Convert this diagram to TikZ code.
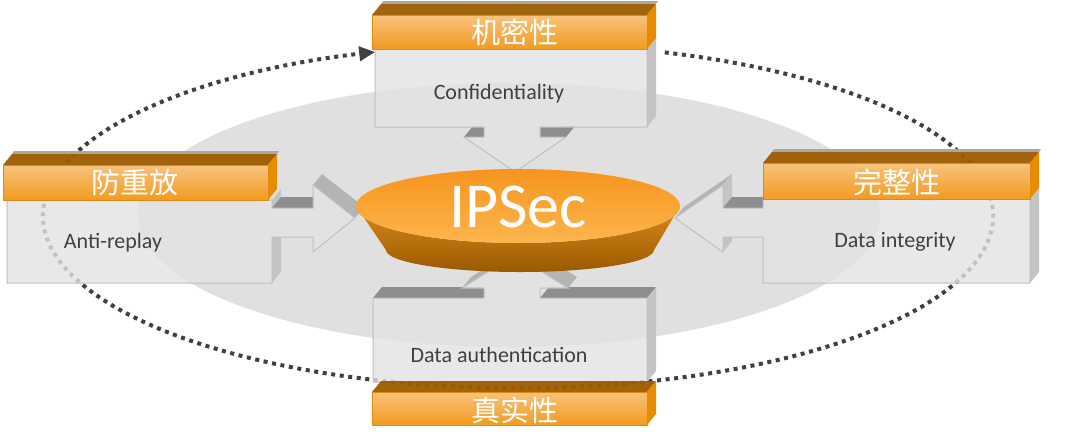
\documentclass[tikz,border=0pt]{standalone}
\usepackage{fontspec}
\setmainfont{Carlito}
\newfontfamily\zhfont{Noto Sans CJK SC}
\usetikzlibrary{arrows.meta}

\definecolor{ringgray}{HTML}{E0E0E0}
\definecolor{dotgray}{HTML}{404040}
\definecolor{facegray}{HTML}{E3E3E3}
\definecolor{edgegray}{HTML}{C0C0C0}
\definecolor{sidegray}{HTML}{C4C4C4}
\definecolor{darkface}{HTML}{8E8E8E}
\definecolor{slantgray}{HTML}{B4B4B4}
\definecolor{backstrip}{HTML}{A8A8A8}
\definecolor{barbrown}{HTML}{9E5B00}
\definecolor{barorange}{HTML}{E58C00}
\definecolor{barlight}{HTML}{F8C27C}
\definecolor{bardeep}{HTML}{F29B20}
\definecolor{baredge}{HTML}{E08A10}
\definecolor{disktopA}{HTML}{F7941D}
\definecolor{disktopB}{HTML}{FDB64E}
\definecolor{disksideA}{HTML}{DB8A1A}
\definecolor{disksideB}{HTML}{9A5A02}
\definecolor{textgray}{HTML}{404040}

\begin{document}
\begin{tikzpicture}[x=0.5pt,y=-0.5pt,
    front/.style={fill=facegray,fill opacity=0.8,draw=edgegray,line width=0.5pt},
    bartop/.style={fill=barbrown,fill opacity=0.95},
    barside/.style={fill=barorange},
    barfront/.style={top color=barlight,bottom color=bardeep,draw=baredge,line width=0.4pt},
    ring/.style={dotgray,line width=2pt,dash pattern=on 2pt off 2.3pt},
    en/.style={text=textgray,font=\fontsize{11}{13}\selectfont},
    zh/.style={text=white,font=\zhfont\fontsize{14.5}{17}\selectfont},
    core/.style={text=white,font=\fontsize{32}{36}\selectfont}]
    \fill[white] (0,0) rectangle (1080,445);
    \useasboundingbox (0,0) rectangle (1080,445);

    % background ring and the cycle
    \fill[ringgray] (509,215) ellipse [x radius=371, y radius=132];
    \draw[ring,-{Triangle[length=8pt,width=7pt]}] (664.8,52.4)
        arc[start angle=288, end angle=612.5, x radius=475, y radius=172];

    % top box
    \fill[backstrip] (381,4) -- (656,4) -- (658,1) -- (383,1) -- cycle;
    \fill[sidegray] (647,49) -- (656,38) -- (656,116) -- (647,127) -- cycle;
    \fill[darkface] (464,137) -- (484,137) -- (484,127) -- (473,126) -- cycle;
    \fill[darkface] (540,127) -- (540,137) -- (566,137) -- (575,126) -- cycle;
    \fill[bartop] (372,15) -- (647,15) -- (656,4) -- (381,4) -- cycle;
    \fill[barside] (647,15) -- (656,4) -- (656,38) -- (647,49) -- cycle;
    \filldraw[front] (375,49) -- (647,49) -- (647,127) -- (540,127) -- (540,137) -- (566,137)
        -- (515,172) -- (464,137) -- (484,137) -- (484,127) -- (375,127) -- cycle;
    \shade[barfront] (372,15) rectangle (647,49);

    % left box
    \fill[backstrip] (12,154) -- (277,154) -- (279,151) -- (14,151) -- cycle;
    \fill[sidegray] (272,200) -- (272,208) -- (281,197) -- (281,189) -- cycle;
    \fill[darkface] (272,208) -- (313,208) -- (313,197) -- (281,197) -- cycle;
    \fill[slantgray] (313,185) -- (355,218) -- (364,207) -- (322,174) -- cycle;
    \fill[sidegray] (272,237) -- (272,283) -- (281,272) -- (281,237) -- cycle;
    \fill[bartop] (3,165) -- (268,165) -- (277,154) -- (12,154) -- cycle;
    \fill[barside] (268,165) -- (277,154) -- (277,189) -- (268,200) -- cycle;
    \filldraw[front] (7,200) -- (272,200) -- (272,208) -- (313,208) -- (313,185) -- (355,218)
        -- (313,252) -- (313,237) -- (272,237) -- (272,283) -- (7,283) -- cycle;
    \shade[barfront] (3,165) rectangle (268,200);

    % right box
    \fill[backstrip] (772,152) -- (1039,152) -- (1041,149) -- (774,149) -- cycle;
    \fill[slantgray] (675,218) -- (723,185) -- (732,174) -- (684,207) -- cycle;
    \fill[sidegray] (723,185) -- (723,208) -- (732,197) -- (732,174) -- cycle;
    \fill[darkface] (723,208) -- (763,208) -- (763,197) -- (732,197) -- cycle;
    \fill[sidegray] (723,237) -- (723,252) -- (732,241) -- (732,237) -- cycle;
    \fill[sidegray] (1030,199) -- (1039,188) -- (1039,272) -- (1030,283) -- cycle;
    \fill[bartop] (763,163) -- (1030,163) -- (1039,152) -- (772,152) -- cycle;
    \fill[barside] (1030,163) -- (1039,152) -- (1039,188) -- (1030,199) -- cycle;
    \filldraw[front] (763,199) -- (1030,199) -- (1030,283) -- (763,283) -- (763,237) -- (723,237)
        -- (723,252) -- (675,218) -- (723,185) -- (723,208) -- (763,208) -- cycle;
    \shade[barfront] (763,163) rectangle (1030,199);

    % bottom box
    \fill[slantgray] (462,288) -- (515,255) -- (524,244) -- (471,277) -- cycle;
    \fill[slantgray] (515,255) -- (568,288) -- (577,277) -- (524,244) -- cycle;
    \fill[darkface] (373,298) -- (484,298) -- (484,287) -- (382,287) -- cycle;
    \fill[darkface] (540,298) -- (647,298) -- (656,287) -- (549,287) -- cycle;
    \fill[sidegray] (647,298) -- (656,287) -- (656,371) -- (647,382) -- cycle;
    \filldraw[front] (373,298) -- (484,298) -- (484,288) -- (462,288) -- (515,255) -- (568,288)
        -- (540,288) -- (540,298) -- (647,298) -- (647,382) -- (373,382) -- cycle;
    \fill[bartop] (372,392) -- (647,392) -- (656,381) -- (381,381) -- cycle;
    \fill[barside] (647,392) -- (656,381) -- (656,414) -- (647,425) -- cycle;
    \shade[barfront] (372,392) rectangle (647,425);

    % IPSec disk
    \shade[top color=disksideA,bottom color=disksideB] (356,206) -- (386,250)
        arc[start angle=180, end angle=0, x radius=134, y radius=22] -- (680,206)
        arc[start angle=0, end angle=180, x radius=162, y radius=37] -- cycle;
    \shade[top color=disktopA,bottom color=disktopB] (518,206) ellipse [x radius=162, y radius=37];

    \node[zh] at (515,32) (conf-zh) {机密性};
    \node[en] at (499,94) (conf-en) {Confidentiality};
    \node[zh] at (135,182) (replay-zh) {防重放};
    \node[en] at (113,243) (replay-en) {Anti-replay};
    \node[zh] at (897,182) (integ-zh) {完整性};
    \node[en] at (895,242) (integ-en) {Data integrity};
    \node[en] at (499,355) (auth-en) {Data authentication};
    \node[zh] at (515,410) (auth-zh) {真实性};
    \node[core] at (518,207) (ipsec) {IPSec};
\end{tikzpicture}
\end{document}
